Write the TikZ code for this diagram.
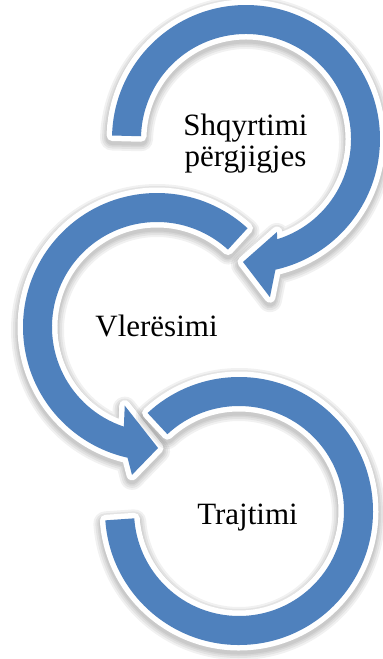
\documentclass[tikz,border=0pt]{standalone}
\usepackage{fontspec}
\setmainfont{Liberation Serif}
\definecolor{accent}{HTML}{4F81BD}
\tikzset{
  shadowlayer/.style={draw=black, fill=black, opacity=0.055, line width=#1, line join=round, transform canvas={yshift=-3pt}},
  whiteedge/.style={draw=white, fill=white, line width=11pt, line join=round},
  bluefill/.style={fill=accent},
  label/.style={inner sep=0pt, anchor=base, font=\fontsize{31}{31}\selectfont}
}
\newcommand\arrowOne{[shift={(246,-139)}] (178.5:134) arc[start angle=178.5, end angle=-77.3, radius=134] -- (-81.4:160) -- (-91.4:123) -- (-71.6:98) -- (-72.7:105) arc[start angle=-72.7, end angle=178.5, radius=105] -- cycle}
\newcommand\arrowTwo{[shift={(157,-327)}] (47.5:134) arc[start angle=47.5, end angle=257.3, radius=134] -- (260.4:150) -- (270.5:121) -- (247.7:85) -- (251.6:105) arc[start angle=251.6, end angle=47.5, radius=105] -- cycle}
\newcommand\arrowThree{[shift={(239,-511)}] (184:134) arc[start angle=184, end angle=493, radius=134] -- (493:105) arc[start angle=493, end angle=184, radius=105] -- cycle}
\newcommand\drawArrow[1]{%
  \foreach \w in {24pt,20pt,16pt,13pt}{\path[shadowlayer=\w] #1;}
  \path[whiteedge] #1;
  \path[bluefill] #1;
}
\begin{document}
\begin{tikzpicture}[x=1pt,y=1pt]
\useasboundingbox[fill=white] (0,0) rectangle (383,-659);
\drawArrow{\arrowOne}
\drawArrow{\arrowTwo}
\drawArrow{\arrowThree}
\node[label] (shq) at (245.5,-135) {Shqyrtimi};
\node[label] (per) at (245.5,-166.5) {përgjigjes};
\node[label] (vle) at (156.5,-336.5) {Vlerësimi};
\node[label] (tra) at (247.5,-524.5) {Trajtimi};
\end{tikzpicture}
\end{document}
